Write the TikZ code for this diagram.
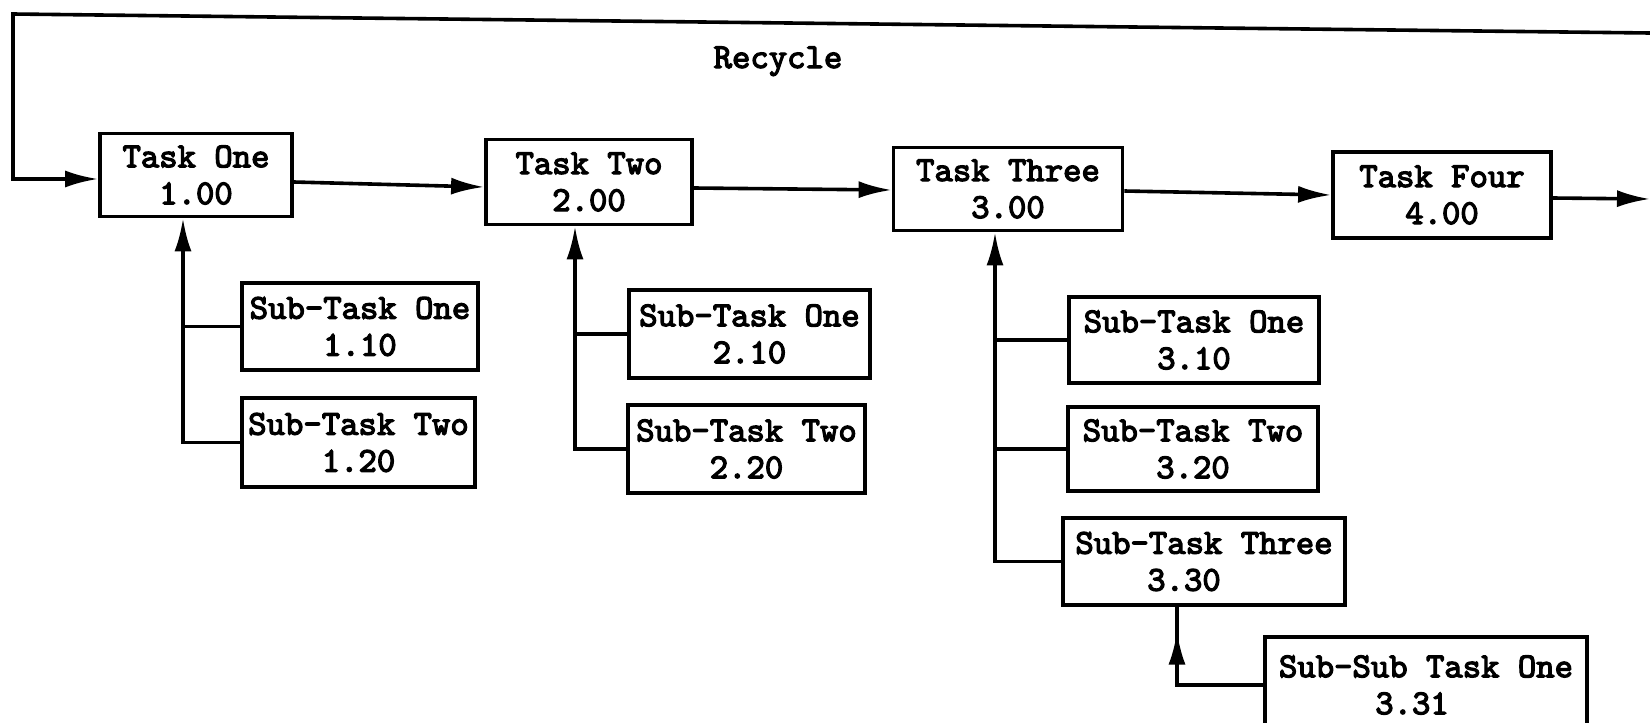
\documentclass[tikz,border=0pt]{standalone}
\usepackage{fontspec}
\newfontfamily\typw{lmmono10-regular.otf}[FakeBold=3.5]
\usetikzlibrary{arrows.meta,decorations.markings}
\begin{document}
\begin{tikzpicture}[x=1pt,y=-1pt,
  txt/.style={font=\typw\fontsize{35}{37}\selectfont},
  box/.style={txt, draw, line width=3.8pt, inner sep=0pt, align=center},
  conn/.style={line width=3.6pt},
  arr/.style={conn, -{Latex[length=33pt,width=17pt]}},
  midarr/.style={conn, postaction={decorate},
    decoration={markings, mark=at position 0.85 with {\arrow{Latex[length=33pt,width=17pt]}}}}
]
\clip (0,0) rectangle (1650,723);
% main tasks
\node[box, minimum width=192pt, minimum height=83pt] (t1) at (196,175) {Task One\\1.00};
\node[box, minimum width=206pt, minimum height=85pt] (t2) at (589,182) {Task Two\\2.00};
\node[box, minimum width=229pt, minimum height=83pt] (t3) at (1008,189) {Task Three\\3.00};
\node[box, minimum width=218pt, minimum height=86pt] (t4) at (1442,195) {Task Four\\4.00};
% sub tasks
\node[box, minimum width=236pt, minimum height=87pt] (s11) at (360,326.5) {Sub-Task One\\1.10};
\node[box, minimum width=233pt, minimum height=89pt] (s12) at (358.5,442.5) {Sub-Task Two\\1.20};
\node[box, minimum width=241pt, minimum height=88pt] (s21) at (749.5,334) {Sub-Task One\\2.10};
\node[box, minimum width=237pt, minimum height=88pt] (s22) at (746.5,449) {Sub-Task Two\\2.20};
\node[box, minimum width=250pt, minimum height=86pt] (s31) at (1194,340) {Sub-Task One\\3.10};
\node[box, minimum width=250pt, minimum height=84pt] (s32) at (1193,449) {Sub-Task Two\\3.20};
\node[box, minimum width=282pt, minimum height=87pt] (s33) at (1204,561.5) {Sub-Task Three\\3.30\hspace*{40pt}};
\node[box, minimum width=322pt, minimum height=96pt] (s331) at (1426,685) {Sub-Sub Task One\\3.31\hspace*{28pt}};
% label
\node[txt, anchor=base] (rl) at (778,68) {Recycle};
% trunk x positions
\coordinate (b1) at (183,0);
\coordinate (b2) at (575,0);
\coordinate (b3) at (995,0);
\coordinate (b4) at (1177,0);
% main flow
\coordinate (rin) at (1650,33);
\coordinate (rc) at (13,14);
\coordinate (out) at (1650,199);
\draw[arr] (rin) -- (rc) |- ([yshift=-4pt]t1.west);
\draw[arr] ([yshift=-7pt]t1.east) -- ([yshift=-5pt]t2.west);
\draw[arr] ([yshift=-6pt]t2.east) -- ([yshift=-1pt]t3.west);
\draw[arr] ([yshift=-2pt]t3.east) -- (t4.west);
\draw[arr] ([yshift=-3pt]t4.east) -- (out);
% branches
\draw[arr] (s12.west) -| (t1.south -| b1);
\draw[conn] (s11.west) -- (s11.west -| b1);
\draw[arr] (s22.west) -| (t2.south -| b2);
\draw[conn] (s21.west) -- (s21.west -| b2);
\draw[arr] (s33.west) -| (t3.south -| b3);
\draw[conn] (s31.west) -- (s31.west -| b3);
\draw[conn] (s32.west) -- (s32.west -| b3);
\draw[midarr] (s331.west) -| (s33.south -| b4);
\end{tikzpicture}
\end{document}
